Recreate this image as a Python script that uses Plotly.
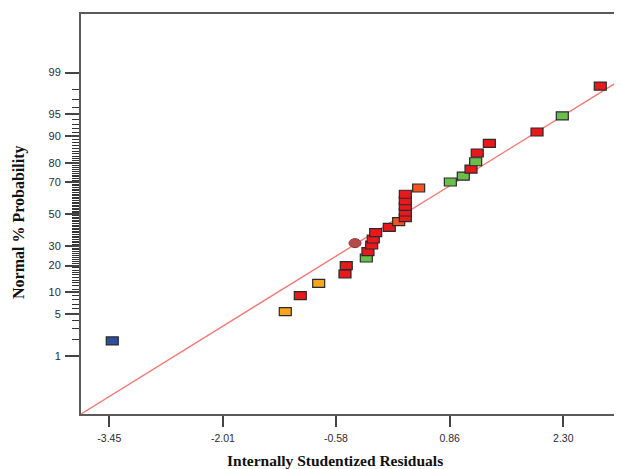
import plotly.graph_objects as go
from statistics import NormalDist

nd = NormalDist()

# ---- data ----
residuals = [-3.412, -1.221, -1.031, -0.798, -0.465, -0.449, -0.195, -0.174,
             -0.127, -0.107, -0.076, 0.096, 0.215, 0.299, 0.299, 0.299, 0.299,
             0.299, 0.468, 0.869, 1.033, 1.131, 1.190, 1.210, 1.363, 1.967,
             2.287, 2.768]
probability = [1.88, 5.49, 9.07, 12.86, 16.35, 19.93, 23.65, 26.96,
               30.71, 34.25, 38.13, 41.55, 45.16, 47.77, 51.5, 55.2, 58.8,
               62.9, 66.7, 70.2, 73.5, 77.1, 80.6, 84.3, 87.8, 91.17,
               94.7, 98.24]
point_colors = ["#2d4ea3", "#f7a51c", "#e8191c", "#f7a51c", "#e8191c", "#e8191c",
                "#6abf4b", "#e8191c", "#e8191c", "#e8191c", "#e8191c", "#e8191c",
                "#f25522", "#e8191c", "#e8191c", "#e8191c", "#e8191c", "#e8191c",
                "#f25522", "#6abf4b", "#6abf4b", "#e8191c", "#6abf4b", "#e8191c",
                "#e8191c", "#e8191c", "#6abf4b", "#e8191c"]
ellipse_residual = [-0.338]
ellipse_probability = [31.8]

# fitted normal line: z = intercept + slope * residual
line_intercept = -0.223
line_slope = 0.8025

x_range = [-3.808, 3.043]
z_range = [-3.279, 3.289]

x_ticks = [-3.45, -2.01, -0.58, 0.86, 2.30]
y_major = [1, 5, 10, 20, 30, 50, 70, 80, 90, 95, 99]
y_minor = [2, 3, 4, 6, 7, 8, 9] + list(range(11, 90)) + [91, 92, 93, 94, 96, 97, 98]
y_minor = [v for v in y_minor if v not in y_major]


def z(p):
    return nd.inv_cdf(p / 100.0)


fig = go.Figure()

# fitted line
lx = x_range
lz = [line_intercept + line_slope * v for v in lx]
fig.add_trace(go.Scatter(x=lx, y=lz, mode="lines",
                         line=dict(color="#f27a76", width=1.4),
                         hoverinfo="skip", showlegend=False))

# data points (invisible carriers for hover) + rectangular markers as shapes
fig.add_trace(go.Scatter(x=residuals, y=[z(p) for p in probability], mode="markers",
                         marker=dict(size=10, opacity=0), showlegend=False,
                         text=[f"{p:.1f}%" for p in probability]))

shapes = []
for xr, pr, c in zip(residuals, probability, point_colors):
    shapes.append(dict(type="rect", xref="x", yref="y", xsizemode="pixel", ysizemode="pixel",
                       xanchor=xr, yanchor=z(pr), x0=-6, x1=6, y0=-4, y1=4,
                       fillcolor=c, line=dict(color="#2a2a2a", width=1.2), layer="above"))
for xr, pr in zip(ellipse_residual, ellipse_probability):
    shapes.append(dict(type="circle", xref="x", yref="y", xsizemode="pixel", ysizemode="pixel",
                       xanchor=xr, yanchor=z(pr), x0=-6, x1=6, y0=-4.5, y1=4.5,
                       fillcolor="#b54a4a", line=dict(color="#8a3a3a", width=1), layer="above"))

# page body has an 8px margin: size the figure so the plot area lands at 81..622 x 14..414
fig.update_layout(
    width=614, height=461,
    margin=dict(l=73, r=0, t=6, b=55),
    plot_bgcolor="white", paper_bgcolor="white",
    shapes=shapes,
    showlegend=False,
    xaxis=dict(range=x_range, showgrid=False, zeroline=False,
               showline=True, linecolor="#5a5a5a", linewidth=2, mirror=True,
               tickmode="array", tickvals=x_ticks, ticktext=[f"{v:.2f}" for v in x_ticks],
               ticks="outside", ticklen=11, tickwidth=1.5, tickcolor="#444",
               tickfont=dict(family="Liberation Sans, Arial", size=10.5, color="#2b2b33"),
               ticklabelstandoff=2),
    yaxis=dict(range=z_range, showgrid=False, zeroline=False,
               showline=True, linecolor="#5a5a5a", linewidth=2,
               tickmode="array", tickvals=[z(v) for v in y_major], ticktext=[str(v) for v in y_major],
               ticks="outside", ticklen=14, tickwidth=1.5, tickcolor="#444",
               tickfont=dict(family="Liberation Sans, Arial", size=11, color="#2b2b33"),
               ticklabelstandoff=2,
               minor=dict(tickmode="array", tickvals=[z(v) for v in y_minor],
                          ticks="outside", ticklen=7, tickwidth=1, tickcolor="#333",
                          showgrid=False)),
    annotations=[
        dict(text="<b>Internally Studentized Residuals</b>", xref="paper", yref="paper",
             x=(335 - 81) / 541, y=(414 - 460) / 400, xanchor="center", yanchor="middle",
             showarrow=False, font=dict(family="Liberation Serif, Times New Roman", size=15.5, color="#111")),
        dict(text="<b>Normal % Probability</b>", xref="paper", yref="paper",
             x=(19 - 81) / 541, y=(414 - 223) / 400, xanchor="center", yanchor="middle",
             textangle=-90, showarrow=False,
             font=dict(family="Liberation Serif, Times New Roman", size=16, color="#111")),
    ],
)

fig.write_html("out.html")
